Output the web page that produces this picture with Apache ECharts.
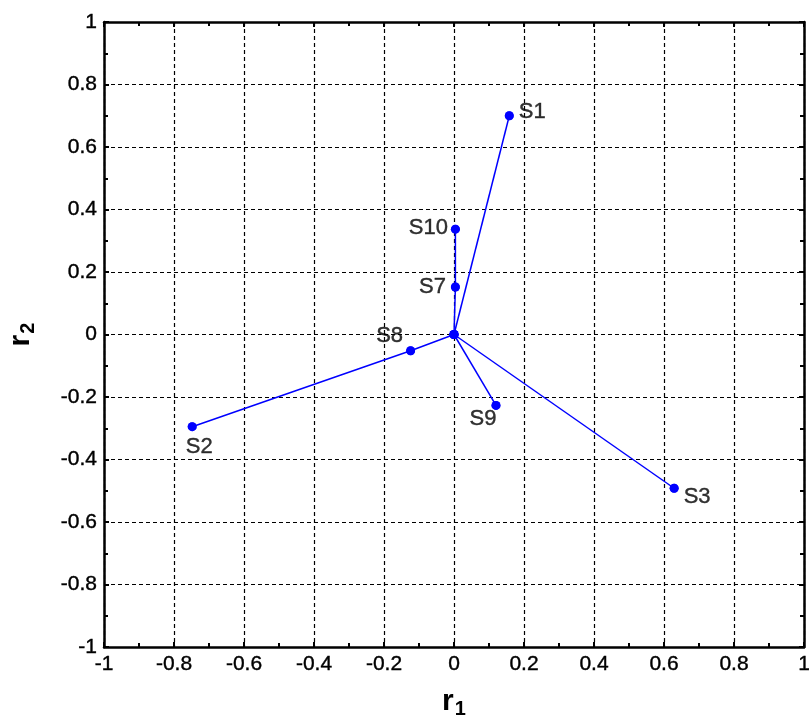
<!DOCTYPE html>
<html>
<head>
<meta charset="utf-8">
<script src="https://cdn.jsdelivr.net/npm/echarts@6/dist/echarts.min.js"></script>
<style>
html, body { margin: 0; padding: 0; background: #fff; }
#main { width: 809px; height: 721px; }
</style>
</head>
<body>
<div id="main"></div>
<script>
// points (r1, r2)
var names = ['S1', 'S2', 'S3', 'S7', 'S8', 'S9', 'S10'];
var r1 = [0.158, -0.748, 0.629, 0.004, -0.124, 0.120, 0.004];
var r2 = [0.700, -0.295, -0.492, 0.152, -0.052, -0.227, 0.337];
// lines from origin, through the listed points in order
var rays = [['S1'], ['S7', 'S10'], ['S8', 'S2'], ['S9'], ['S3']];
var tickVals = [-1, -0.8, -0.6, -0.4, -0.2, 0, 0.2, 0.4, 0.6, 0.8, 1];

// label placement per point
var labelPos = {
  S1: { position: 'right', distance: 5, offset: [0, -4] },
  S10: { position: 'left', distance: 3, offset: [0, -1] },
  S7: { position: 'left', distance: 5, offset: [0, 0] },
  S8: { position: 'left', distance: 3, offset: [0, -15] },
  S2: { position: 'bottom', distance: 5, offset: [7, 0] },
  S9: { position: 'bottom', distance: 0, offset: [-13, -2] },
  S3: { position: 'right', distance: 5, offset: [0, 9] }
};

var pt = function (n) {
  var i = names.indexOf(n);
  return [r1[i], r2[i]];
};

var series = rays.map(function (ray) {
  return {
    type: 'line',
    data: [[0, 0]].concat(ray.map(pt)),
    symbol: 'circle',
    symbolSize: 9,
    showAllSymbol: true,
    lineStyle: { color: '#0000ff', width: 1.5 },
    itemStyle: { color: '#0000ff' },
    silent: true,
    z: 3
  };
});

series.push({
  type: 'scatter',
  symbolSize: 9,
  itemStyle: { color: '#0000ff' },
  data: names.map(function (n, i) {
    return {
      value: [r1[i], r2[i]],
      label: Object.assign({
        show: true,
        formatter: n,
        color: '#000',
        fontSize: 22,
        fontFamily: 'Liberation Sans',
        textBorderColor: '#000',
        textBorderWidth: 0.4
      }, labelPos[n])
    };
  }),
  z: 4
});

var minLabel = tickVals[0];
var maxLabel = tickVals[tickVals.length - 1];
var interval = Math.round((tickVals[1] - tickVals[0]) * 10) / 10;

var baseAxis = function (extra) {
  return Object.assign({
    type: 'value',
    min: minLabel,
    max: maxLabel,
    interval: interval,
    axisLine: { show: true, onZero: false, lineStyle: { color: '#000', width: 2.5 } },
    axisTick: { show: true, inside: true, length: 5, lineStyle: { color: '#000', width: 2 } },
    minorTick: { show: true, splitNumber: 2, length: 4, lineStyle: { color: '#000', width: 2 } },
    splitLine: { show: false },
    axisLabel: { show: false }
  }, extra);
};

var labelStyle = {
  show: true,
  color: '#000',
  fontSize: 21,
  fontFamily: 'Liberation Sans',
  textBorderColor: '#000',
  textBorderWidth: 0.4,
  showMinLabel: true,
  showMaxLabel: true,
  formatter: function (v) { return String(parseFloat(v.toFixed(1))); }
};

var gridLine = { show: true, lineStyle: { color: '#000', width: 1.2, type: [4, 3] } };

var nameRich = {
  r: { fontSize: 30, fontWeight: 'bold', fontFamily: 'Liberation Sans', color: '#000' },
  s: { fontSize: 20, fontWeight: 'bold', fontFamily: 'Liberation Sans', color: '#000', padding: [14, 0, 0, 1] }
};

var myChart = echarts.init(document.getElementById('main'));
myChart.setOption({
  animation: false,
  backgroundColor: '#fff',
  grid: { left: 104, right: 5, top: 22, bottom: 74, show: false, containLabel: false, outerBoundsMode: 'none' },
  xAxis: [
    baseAxis({
      position: 'bottom',
      splitLine: gridLine,
      axisLabel: Object.assign({ margin: 7 }, labelStyle),
      name: '{r|r}{s|1}',
      nameLocation: 'middle',
      nameGap: 38,
      nameTextStyle: { rich: nameRich }
    }),
    baseAxis({ position: 'top' })
  ],
  yAxis: [
    baseAxis({
      position: 'left',
      splitLine: gridLine,
      axisLabel: Object.assign({ margin: 7 }, labelStyle),
      name: '{r|r}{s|2}',
      nameLocation: 'middle',
      nameGap: 66,
      nameRotate: 90,
      nameTextStyle: { rich: nameRich }
    }),
    baseAxis({ position: 'right' })
  ],
  series: series
});
</script>
</body>
</html>
